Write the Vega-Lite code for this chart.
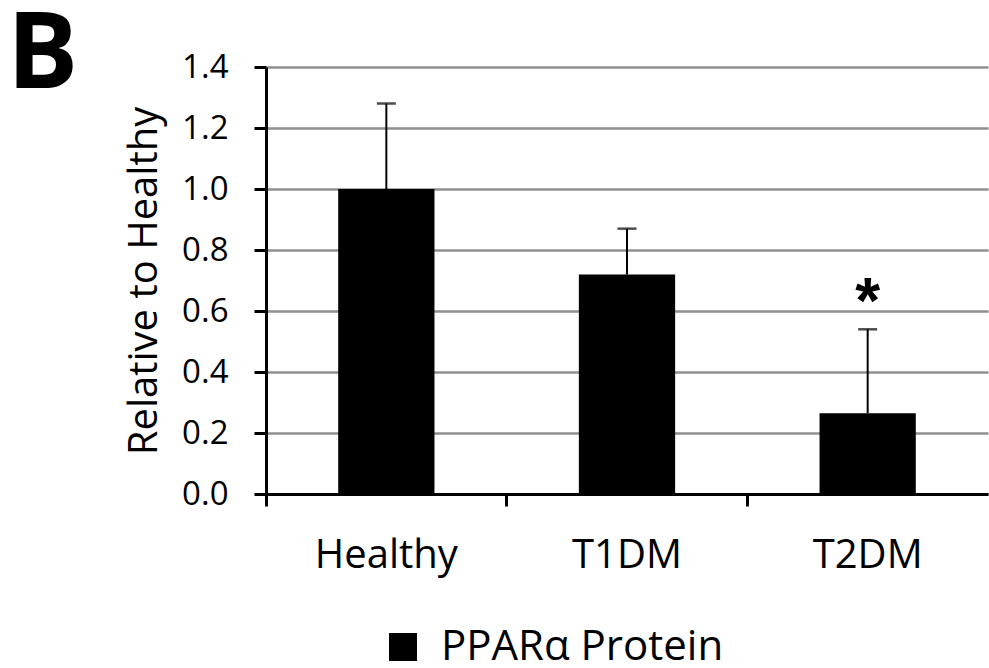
{
  "$schema": "https://vega.github.io/schema/vega-lite/v6.json",
  "width": 722,
  "height": 427,
  "autosize": {"type": "none"},
  "padding": {"left": 266, "top": 67, "right": 1, "bottom": 174},
  "background": "white",
  "title": {
    "text": "B",
    "anchor": "start",
    "frame": "group",
    "font": "Open Sans",
    "fontSize": 106,
    "fontWeight": "bold",
    "color": "black",
    "baseline": "alphabetic",
    "offset": 0,
    "dx": -259,
    "dy": 147
  },
  "config": {
    "view": {"stroke": null},
    "font": "Open Sans"
  },
  "data": {
    "values": [
      {"group": "Healthy", "value": 1.0, "upper": 1.28, "sig": "", "series": "PPARα Protein"},
      {"group": "T1DM", "value": 0.72, "upper": 0.87, "sig": "", "series": "PPARα Protein"},
      {"group": "T2DM", "value": 0.265, "upper": 0.54, "sig": "*", "series": "PPARα Protein"}
    ]
  },
  "encoding": {
    "x": {
      "field": "group",
      "type": "nominal",
      "sort": null,
      "scale": {"paddingInner": 0, "paddingOuter": 0},
      "axis": {
        "title": null,
        "labelAngle": 0,
        "labelFont": "Open Sans",
        "labelFontSize": 40,
        "labelColor": "black",
        "labelPadding": 29,
        "bandPosition": 0,
        "tickSize": 12,
        "tickWidth": 3,
        "tickColor": "black",
        "domainColor": "black",
        "domainWidth": 3,
        "grid": false
      }
    }
  },
  "layer": [
    {
      "mark": {"type": "bar", "width": {"band": 0.4}, "color": "black"},
      "encoding": {
        "y": {
          "field": "value",
          "type": "quantitative",
          "scale": {"domain": [0, 1.4], "nice": false},
          "axis": {
            "title": "Relative to Healthy",
            "titleFont": "Open Sans",
            "titleFontSize": 40,
            "titleFontWeight": "normal",
            "titleColor": "black",
            "titlePadding": 17,
            "values": [0, 0.2, 0.4, 0.6, 0.8, 1.0, 1.2, 1.4],
            "format": ".1f",
            "labelFont": "Open Sans",
            "labelFontSize": 33,
            "labelColor": "black",
            "labelPadding": 26,
            "tickSize": 12,
            "tickWidth": 3,
            "tickColor": "black",
            "domainColor": "black",
            "domainWidth": 3,
            "grid": true,
            "gridColor": "#8f8f8f",
            "gridWidth": 2.5
          }
        },
        "color": {
          "field": "series",
          "type": "nominal",
          "scale": {"range": ["black"]},
          "legend": {
            "title": null,
            "orient": "none",
            "legendX": 116,
            "legendY": 559,
            "padding": 0,
            "symbolType": "square",
            "symbolSize": 784,
            "symbolStrokeWidth": 0,
            "labelFont": "Open Sans",
            "labelFontSize": 42,
            "labelLimit": 600,
            "labelColor": "black",
            "labelOffset": 17
          }
        }
      }
    },
    {
      "mark": {"type": "rule", "color": "black", "strokeWidth": 2},
      "encoding": {
        "y": {"field": "value", "type": "quantitative"},
        "y2": {"field": "upper"}
      }
    },
    {
      "mark": {"type": "tick", "color": "black", "thickness": 2.5, "size": 19, "orient": "horizontal"},
      "encoding": {
        "y": {"field": "upper", "type": "quantitative"}
      }
    },
    {
      "mark": {"type": "text", "color": "black", "font": "Liberation Sans", "fontSize": 64, "fontWeight": "bold", "baseline": "alphabetic", "dy": -6},
      "encoding": {
        "y": {"field": "upper", "type": "quantitative"},
        "text": {"field": "sig"}
      }
    }
  ]
}
